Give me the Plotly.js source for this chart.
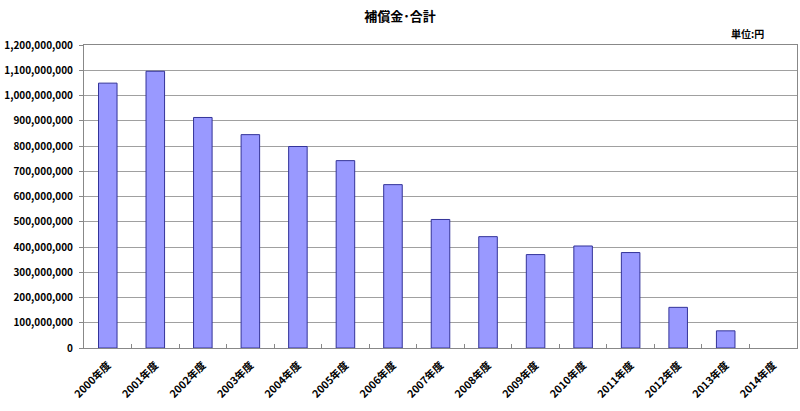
<!DOCTYPE html>
<html>
<head>
<meta charset="utf-8">
<script src="https://cdn.plot.ly/plotly-3.0.1.min.js"></script>
<style>html,body{margin:0;padding:0;background:#fff;}#chart{width:800px;height:411px;}</style>
</head>
<body>
<div id="chart"></div>
<script>
const categories = ["2000年度","2001年度","2002年度","2003年度","2004年度","2005年度","2006年度","2007年度","2008年度","2009年度","2010年度","2011年度","2012年度","2013年度","2014年度"];
const values = [1049000000,1096000000,913000000,845000000,798000000,742000000,647000000,509000000,441000000,370000000,404000000,378000000,161000000,68000000,0];
const yTicks = [0,100000000,200000000,300000000,400000000,500000000,600000000,700000000,800000000,900000000,1000000000,1100000000,1200000000];

const fontFam = '"Noto Sans CJK JP", "DejaVu Sans", sans-serif';
const trace = {
  type: 'bar',
  x: categories,
  y: values,
  marker: {color: '#9999FF', line: {color: '#333399', width: values.map(v => v === 0 ? 0 : 1)}},
  hoverinfo: 'x+y'
};
const layout = {
  width: 800, height: 411,
  margin: {l: 84, r: 3, t: 45, b: 63},
  paper_bgcolor: '#ffffff', plot_bgcolor: '#ffffff',
  bargap: 0.61,
  showlegend: false,
  title: {text: '補償金･合計', x: 0.5, xanchor: 'center', y: 0.96, yanchor: 'middle',
          font: {family: fontFam, size: 13, color: '#000', weight: 'bold'}},
  xaxis: {
    type: 'category',
    tickangle: -45,
    ticks: 'inside', ticklen: 4, tickcolor: '#888', tickson: 'boundaries',
    ticklabelstandoff: 6,
    showline: true, linecolor: '#888', linewidth: 1, mirror: true,
    showgrid: false,
    tickfont: {family: fontFam, size: 10.5, color: '#000', weight: 'bold'}
  },
  yaxis: {
    range: [0, 1200000000],
    tickvals: yTicks,
    tickformat: ',d',
    ticks: 'outside', ticklen: 4, tickcolor: '#888',
    ticklabelstandoff: 4,
    showline: true, linecolor: '#888', linewidth: 1, mirror: true,
    showgrid: true, gridcolor: '#a0a0a0', gridwidth: 1,
    zeroline: false,
    tickfont: {family: fontFam, size: 10, color: '#000', weight: 'bold'}
  },
  annotations: [{
    text: '単位:円', xref: 'paper', yref: 'paper', x: 0.93, y: 1.0, yshift: 12,
    xanchor: 'center', yanchor: 'middle', showarrow: false,
    font: {family: fontFam, size: 10, color: '#000', weight: 'bold'}
  }]
};
Plotly.newPlot('chart', [trace], layout, {displayModeBar: false, staticPlot: true});
</script>
</body>
</html>
